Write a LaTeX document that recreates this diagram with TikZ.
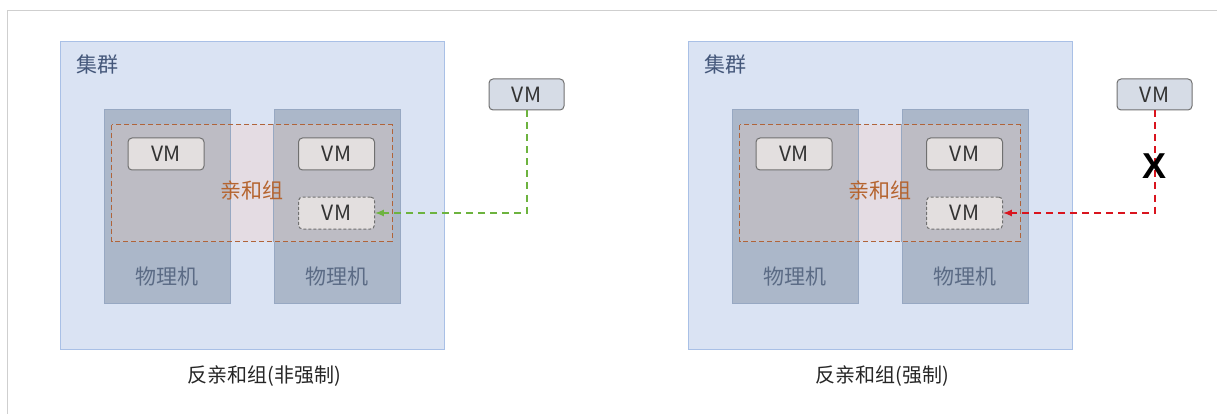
\documentclass[tikz,border=0pt]{standalone}
\usepackage{fontspec}
\setmainfont{Noto Sans CJK SC}
\newfontfamily\xfont{Liberation Sans}
\usepackage{tikz}
\usetikzlibrary{shapes}
\usetikzlibrary{positioning}
\tikzset{>=latex}

\definecolor{framegray}{HTML}{CFCFCF}
\definecolor{clusterfill}{HTML}{DAE3F3}
\definecolor{clusterline}{HTML}{A9C0E6}
\definecolor{clustertext}{HTML}{44577A}
\definecolor{hostfill}{HTML}{ABB7C9}
\definecolor{hostline}{HTML}{97A8C2}
\definecolor{hosttext}{HTML}{5B6B85}
\definecolor{hostover}{HTML}{BDBCC4}
\definecolor{affill}{HTML}{E4DCE3}
\definecolor{afline}{HTML}{B0643A}
\definecolor{aftext}{HTML}{B5642F}
\definecolor{vmfill}{HTML}{E3DFDF}
\definecolor{vmline}{HTML}{707070}
\definecolor{vmext}{HTML}{D6DCE6}
\definecolor{okgreen}{HTML}{6DB33F}
\definecolor{nored}{HTML}{D9141E}

\tikzset{
  cluster/.style={draw=clusterline, fill=clusterfill, line width=1pt, inner sep=0pt,
    minimum width=384pt, minimum height=307pt},
  host/.style={draw=hostline, fill=hostfill, line width=1pt, inner sep=0pt,
    minimum width=126pt, minimum height=193pt},
  affgroup/.style={fill=affill, inner sep=0pt, minimum width=280pt, minimum height=116pt},
  affborder/.style={draw=afline, line width=1.2pt, dash pattern=on 5pt off 3pt},
  vmbox/.style={draw=vmline, fill=vmfill, line width=1pt, rounded corners=4pt,
    inner sep=0pt, minimum width=76pt, minimum height=32pt, font=\fontsize{21pt}{23pt}\selectfont,
    text=black!80},
  vmghost/.style={vmbox, dash pattern=on 3pt off 2pt},
  vmext/.style={vmbox, fill=vmext, draw=vmline, minimum width=75pt, minimum height=31pt},
  lbl/.style={font=\fontsize{21pt}{23pt}\selectfont},
  caption/.style={font=\fontsize{20pt}{22pt}\selectfont, text=black!85, anchor=west},
  softpath/.style={draw=okgreen, line width=2pt, dash pattern=on 7pt off 5pt},
  hardpath/.style={draw=nored, line width=2pt, dash pattern=on 7pt off 5pt},
  cross/.style={font=\xfont\fontsize{36pt}{40pt}\selectfont\bfseries, text=black, inner sep=0pt}
}

\begin{document}
\begin{tikzpicture}[x=1pt, y=-1pt]
      \useasboundingbox (0,0) rectangle (1217,414);
      % frame of the screenshot
      \draw[framegray, line width=1pt] (7.5,414) -- (7.5,10.5) -- (1217,10.5);

      % left: non-mandatory
      \node[cluster] (Lc) at (252,195.5) {};
      \node[lbl, text=clustertext] (Lct) at (97,65) {集群};
      \node[affgroup] (La) at (252,183) {};
      \node[host] (Lh1) at (167,206.5) {};
      \node[host] (Lh2) at (337,206.5) {};
      \begin{scope}
        \clip (La.north west) rectangle (La.south east);
        \filldraw[fill=hostover, draw=hostline, line width=1pt] (Lh1.north west) rectangle (Lh1.south east);
        \filldraw[fill=hostover, draw=hostline, line width=1pt] (Lh2.north west) rectangle (Lh2.south east);
      \end{scope}
      \draw[affborder] (La.north west) rectangle (La.south east);
      \node[lbl, text=aftext] (Lat) at (252,190) {亲和组};
      \node[lbl, text=hosttext] (Lh1t) at (167,277) {物理机};
      \node[lbl, text=hosttext] (Lh2t) at (337,277) {物理机};
      \node[vmbox] (Lvm1) at (166,154) {VM};
      \node[vmbox] (Lvm2) at (336.5,154) {VM};
      \node[vmghost] (Lvm3) at (336.5,213) {VM};
      \node[vmext] (Lnew) at (526.5,94.5) {VM};
      \draw[softpath, ->] (Lnew.south) |- (Lvm3.east);
      \node[caption] (Lcap) at (184,376) {反亲和组(非强制)};

      % right: mandatory
      \begin{scope}[xshift=628pt]
      \node[cluster] (Rc) at (252,195.5) {};
      \node[lbl, text=clustertext] (Rct) at (97,65) {集群};
      \node[affgroup] (Ra) at (252,183) {};
      \node[host] (Rh1) at (167,206.5) {};
      \node[host] (Rh2) at (337,206.5) {};
      \begin{scope}
        \clip (Ra.north west) rectangle (Ra.south east);
        \filldraw[fill=hostover, draw=hostline, line width=1pt] (Rh1.north west) rectangle (Rh1.south east);
        \filldraw[fill=hostover, draw=hostline, line width=1pt] (Rh2.north west) rectangle (Rh2.south east);
      \end{scope}
      \draw[affborder] (Ra.north west) rectangle (Ra.south east);
      \node[lbl, text=aftext] (Rat) at (252,190) {亲和组};
      \node[lbl, text=hosttext] (Rh1t) at (167,277) {物理机};
      \node[lbl, text=hosttext] (Rh2t) at (337,277) {物理机};
      \node[vmbox] (Rvm1) at (166,154) {VM};
      \node[vmbox] (Rvm2) at (336.5,154) {VM};
      \node[vmghost] (Rvm3) at (336.5,213) {VM};
      \node[vmext] (Rnew) at (526.5,94.5) {VM};
      \draw[hardpath, ->] (Rnew.south) |- node[cross, pos=0.27] (Rx) {X} (Rvm3.east);
      \node[caption] (Rcap) at (184,376) {反亲和组(强制)};
      \end{scope}
    \end{tikzpicture}
\end{document}
